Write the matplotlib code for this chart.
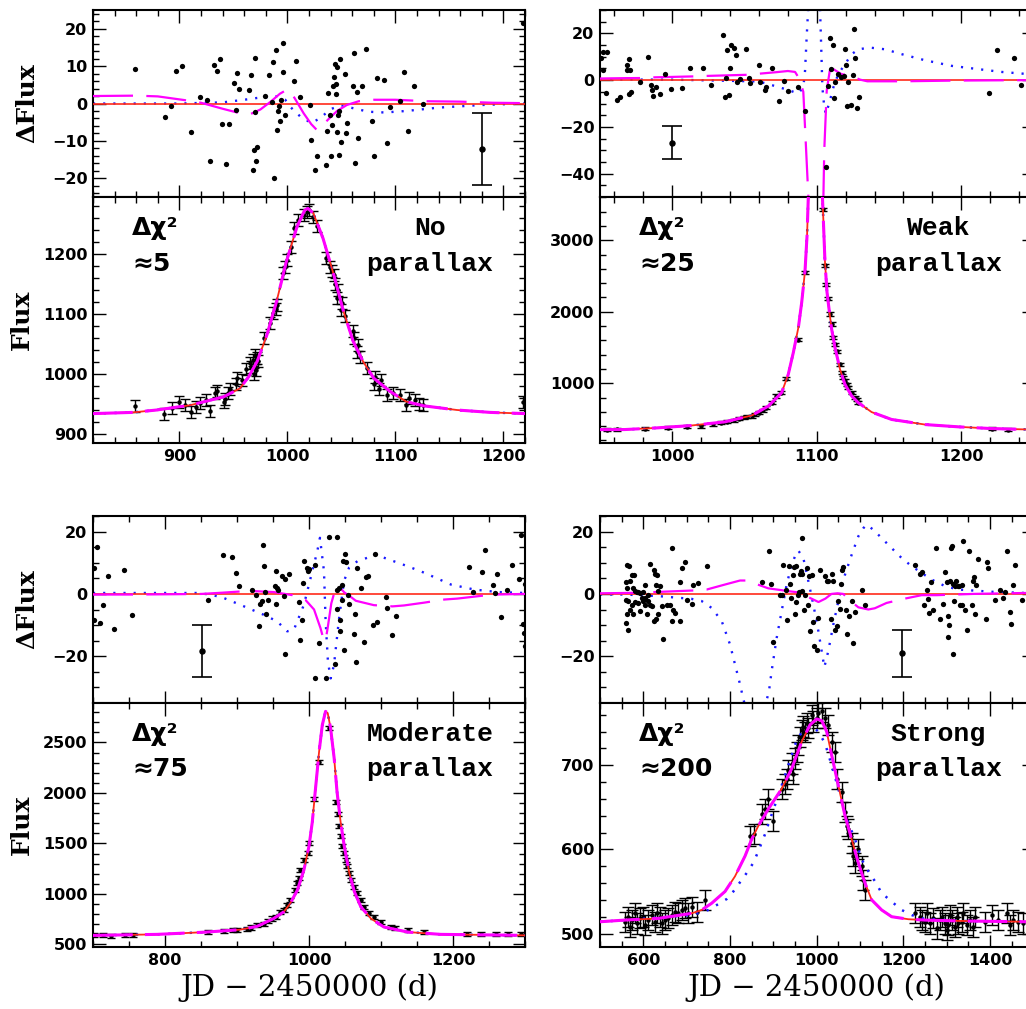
import numpy as np
import matplotlib.pyplot as plt
from matplotlib.ticker import MultipleLocator

# ---------------- panel A : no parallax ----------------
a_res = [(859, 9.3), (887, -3.7), (892, -0.6), (897, 8.6), (902, 9.9), (911, -7.5), (919, 1.7), (926, 0.9),
         (928, -15.4), (932, 10.2), (935, 8.8), (938, 11.8), (939, -5.5), (943, -16.2), (946, -5.5), (951, 5.4),
         (952, -1.8), (953, 8.2), (955, 4.0), (964, 3.7), (966, 7.7), (968, -17.9), (969, -12.5), (970, 12.2),
         (971, -15.3), (972, -11.7), (970, -2.4), (979, 2.0), (983, 7.7), (986, 0.3), (987, 11.0), (988, -20.0),
         (989, 14.4), (990, -7.2), (991, -1.9), (992, -0.7), (993, -4.7), (994, 1.0), (996, 8.4), (996, 16.3),
         (998, -3.1), (1006, 6.0), (1008, 11.3), (1012, 1.7), (1021, -0.3), (1022, -9.8), (1026, -17.9),
         (1027, -14.0), (1036, -16.5), (1037, -7.3), (1038, 2.8), (1039, -3.0), (1040, -14.0), (1041, -5.8),
         (1042, 4.7), (1043, 7.1), (1044, 10.6), (1045, 5.2), (1045, 2.6), (1046, 9.7), (1046, -7.6), (1047, -3.1),
         (1048, -1.9), (1048, -13.8), (1049, 11.8), (1050, -10.3), (1053, 7.9), (1054, -7.8), (1055, -5.3),
         (1061, 4.7), (1062, 13.5), (1063, -15.8), (1064, 3.1), (1065, -9.2), (1069, 4.7), (1073, 14.5),
         (1078, -4.7), (1080, -14.1), (1083, 6.8), (1089, 6.3), (1092, -10.5), (1095, -1.0), (1104, 0.7),
         (1108, 8.3), (1112, -7.4), (1117, 4.8), (1126, 0.0), (1218, 21.6)]
a_bar = (1180, -12.2, 9.6)
a_mag = [(820, 2.0), (860, 2.1), (880, 1.9), (905, 0.9), (920, 0.2), (940, -1.4), (956, -2.6), (966, -2.8),
         (975, -1.6), (985, 0.6), (993, 2.6), (999, 3.6), (1003, 3.2), (1008, 0.8), (1015, -2.6), (1022, -5.5),
         (1027, -7.0), (1032, -6.0), (1038, -4.2), (1046, -2.0), (1055, -0.4), (1066, 0.6), (1080, 1.0),
         (1100, 1.0), (1115, 0.8), (1130, 0.6), (1160, 0.5), (1190, 0.2), (1220, 0.1)]
a_blue = [(820, 0.0), (900, 0.0), (940, 0.3), (960, 1.0), (975, 1.6), (990, 1.9), (998, 1.0), (1003, -1.0),
          (1012, -3.5), (1022, -5.2), (1030, -4.0), (1040, -1.5), (1050, -0.5), (1060, -1.2), (1075, -2.2),
          (1090, -2.4), (1110, -2.0), (1140, -1.1), (1180, -0.4), (1220, 0.0)]
a_flux = [(859, 946), (886, 934), (893, 943), (900, 954), (905, 948), (911, 937), (915, 945), (919, 951),
          (925, 957), (928, 938), (933, 968), (935, 972), (941, 954), (942, 959), (945, 968), (947, 975),
          (952, 984), (953, 993), (958, 990), (962, 1009), (965, 1018), (966, 1012), (968, 1023), (969, 1000),
          (970, 1032), (971, 1007), (972, 1026), (973, 1022), (978, 1060), (984, 1085), (987, 1101), (989, 1109),
          (990, 1115), (996, 1169), (998, 1179), (1000, 1190), (1003, 1212), (1006, 1243), (1010, 1257),
          (1015, 1265), (1018, 1270), (1020, 1273), (1024, 1262), (1027, 1246), (1036, 1193), (1039, 1179),
          (1041, 1172), (1043, 1165), (1044, 1150), (1046, 1126), (1047, 1140), (1050, 1107), (1051, 1118),
          (1053, 1096), (1061, 1071), (1062, 1060), (1064, 1037), (1065, 1048), (1067, 1029), (1074, 1010),
          (1080, 984), (1081, 995), (1085, 975), (1087, 990), (1092, 965), (1098, 968), (1104, 965), (1110, 948),
          (1113, 960), (1118, 957), (1122, 950), (1126, 948), (1218, 954)]
a_err = 10
a_model = [(820, 934), (857, 936), (879, 940), (910, 948), (941, 962), (956, 976), (964, 995), (972, 1021),
           (981, 1065), (990, 1121), (999, 1187), (1009, 1246), (1016, 1273), (1019, 1276), (1024, 1268),
           (1033, 1226), (1043, 1165), (1052, 1104), (1061, 1054), (1070, 1021), (1080, 993), (1095, 971),
           (1110, 954), (1126, 947), (1157, 940), (1188, 936), (1220, 934)]

# ---------------- panel B : weak parallax ----------------
b_res = [(951, 9.4), (952, 12.2), (955, 11.9), (952, 4.4), (954, -5.4), (962, -8.4), (964, -7.1), (968.5, 6.5),
         (970, 8.9), (969, 4.2), (971, 4.2), (970, -6.0), (971.5, -5.2), (978, -1.0), (983, 10.1), (985, -2.1),
         (986, -4.3), (987, -6.7), (989, -2.8), (991.5, -6.0), (995, 2.6), (999, -3.8), (1006.5, -3.4),
         (1012, 5.4), (1021, 5.4), (1027, -2.1), (1035, 19.3), (1036.5, -7.4), (1037, 1.1), (1038, 12.8),
         (1039.5, -6.2), (1040, 5.1), (1041, 15.0), (1043, 13.6), (1044, 10.8), (1045, -0.6), (1047, 0.4),
         (1051, 13.2), (1053, 0.8), (1054, -1.1), (1060, 6.4), (1061, -0.6), (1064, -4.3), (1065, -3.1),
         (1069, 5.4), (1074, -9.0), (1077, -0.3), (1080, -4.8), (1087, -3.1), (1092, -13.0), (1106.6, -37.2),
         (1107.8, -2.7), (1109, 18.2), (1110, 4.7), (1111, 14.9), (1111.7, -7.7), (1112.6, -1.0), (1115, 2.6),
         (1117, 1.4), (1118.6, 1.8), (1119.5, 13.2), (1120, 6.5), (1120.7, -11.2), (1121.6, -1.0),
         (1123.7, -10.6), (1125, 2.3), (1125.5, 22.0), (1126.7, 9.6), (1127.6, -12.1), (1129.5, -7.1),
         (1219, -5.5), (1224.5, 12.9), (1236.5, 9.5), (1241.4, -2.0)]
b_bar = (1000, -26.8, 7.1)
b_mag = [(950, 0.7), (968, 0.85), (978, 0.9), (988, 1.2), (1015, 1.6), (1024, 1.8), (1053, 2.3), (1061, 2.8),
         (1072, 3.4), (1080, 3.9), (1085, 3.5), (1087, 1.5), (1089, -1.5), (1090.7, -5), (1092, -21.6),
         (1094.2, -50), (1099.5, -130), (1104.6, -50), (1105.2, -30), (1106.9, -4.5), (1109, 4.0),
         (1111.5, 4.7), (1117, 2.6), (1124, 1.8), (1130, 0.2), (1135, -0.5), (1160, -0.5), (1195, -0.2),
         (1250, 0.0)]
b_blue = [(950, 0.3), (1000, 0.2), (1040, -0.3), (1060, -0.6), (1066.5, -1.7), (1078, -3.8), (1087.3, -5.7),
          (1090.7, -3.0), (1091.9, 4.0), (1093, 18.2), (1094.2, 32), (1098, 80), (1102.2, 32), (1102.9, 18),
          (1103.9, -3.1), (1105, -10.2), (1106.2, -14.5), (1108.5, -10.2), (1111.5, -3.1), (1114.9, 2.6),
          (1119.5, 6.8), (1124.2, 11.1), (1128.8, 13.2), (1136.8, 13.9), (1147.2, 13.2), (1158.8, 11.1),
          (1174.9, 8.5), (1193.4, 6.1), (1211.8, 4.7), (1228, 3.5), (1250, 2.4)]
b_flux = [(955, 352), (962, 355), (981, 367), (997, 377), (1010, 390), (1020, 400), (1028, 425), (1034, 447),
          (1038, 465), (1043, 484), (1046, 505), (1050, 527), (1052, 535), (1055, 541), (1057, 565), (1060, 587),
          (1063, 625), (1065, 658), (1069, 728), (1072, 822), (1075, 868), (1079, 1065), (1087, 1609),
          (1092, 2555), (1104.5, 3435), (1105.5, 2648), (1106.6, 2377), (1108, 2180), (1109.2, 1969),
          (1110.3, 1829), (1111.5, 1641), (1112.6, 1548), (1113.8, 1445), (1116.1, 1267), (1117.2, 1149),
          (1118.4, 1079), (1119.5, 1032), (1120.7, 986), (1121.9, 939), (1124.2, 868), (1126.5, 798),
          (1127.6, 775), (1128.8, 728), (1221, 363), (1232.6, 353)]
b_err = 22
b_model = [(950, 352), (967, 353), (990, 377), (1013, 409), (1036.5, 461), (1055, 550), (1066.5, 681),
           (1075.7, 868), (1080.3, 1126), (1083.8, 1431), (1087.3, 1782), (1089.6, 2133), (1091.9, 2578),
           (1093.3, 3070), (1094.2, 3632), (1097, 5000), (1099.5, 5800), (1102, 5000), (1103.9, 3632),
           (1104.8, 3164), (1105.7, 2695), (1107.1, 2274), (1108.5, 2039), (1110.3, 1758), (1112.6, 1501),
           (1116.1, 1196), (1119.5, 985), (1124.2, 822), (1128.8, 728), (1138, 597), (1151.8, 494),
           (1174.9, 423), (1198, 391), (1221, 367), (1250, 352)]

# ---------------- panel C : moderate parallax ----------------
c_res = [(701.8, 8.4), (705.1, 15.0), (701.8, -8.3), (709.7, -9.2), (714.4, -3.4), (721.3, 5.7), (729.2, -11.2),
         (743.6, 7.6), (754.8, -6.7), (859.2, -1.9), (880.1, 12.5), (892.6, 11.9), (898.2, 6.8), (902.4, 2.7),
         (920.5, 1.1), (926.1, -0.4), (930.3, -10.2), (932.1, -3.1), (934.4, -2.4), (935.8, 15.7), (938.1, 8.9),
         (939.1, 0.5), (940.9, -6.5), (943.7, -1.8), (952.1, 2.5), (953.9, -3.2), (954.4, 7.3), (955.8, 1.9),
         (957.2, 1.4), (962.7, 5.7), (964.6, -0.8), (966.5, -19.4), (966.5, 4.9), (972.5, 6.5), (986.0, -2.6),
         (987.4, -14.8), (990.1, -8.4), (992.0, 3.5), (993.4, 10.7), (996.6, 8.4), (998.5, 7.3), (1000.3, 8.0),
         (1008.2, 9.4), (1008.2, -27.1), (1013.8, -15.6), (1023.1, -27.1), (1028.2, 18.4), (1036.1, -22.5),
         (1038.4, 18.4), (1038.9, -4.7), (1039.3, 1.1), (1041.7, 1.9), (1042.6, -8.3), (1043.1, -11.8),
         (1045.4, -1.8), (1045.8, 3.0), (1047.7, 10.5), (1048.6, -18.1), (1050.0, 12.7), (1051.4, 10.4),
         (1054.7, -0.2), (1056.1, -3.2), (1062.6, -13.0), (1063.5, -6.4), (1065.8, -21.7), (1066.7, 8.4),
         (1071.8, 1.9), (1076.5, -15.3), (1079.3, 5.4), (1082.1, 5.8), (1089.0, -10.1), (1091.8, 12.7),
         (1094.1, -9.0), (1107.1, -1.0), (1109.0, -4.5), (1115.5, -13.2), (1120.6, -7.2), (1222.7, 8.7),
         (1228.3, 0.6), (1239.9, 6.9), (1245.0, 14.1), (1255.2, 2.8), (1258.5, 0.3), (1261.3, 6.5),
         (1267.3, -7.4), (1274.7, 1.4), (1281.7, 9.2), (1291.9, 4.9), (1294.2, 19.0), (1297.0, -9.6),
         (1298.4, -12.7), (1299.5, -16.6), (1299.6, 3.2)]
c_bar = (851, -18.2, 8.3)
c_mag = [(700, -0.2), (756, -0.2), (812, -0.1), (851, 0.0), (880, 0.4), (906, 0.8), (923, 0.9), (951, 0.6),
         (977, -0.4), (995, -1.9), (1007, -5.0), (1016, -11.0), (1020, -14.4), (1023, -15.0), (1026, -10.8),
         (1031, -3.0), (1037, 1.9), (1045, 1.5), (1049, 0.5), (1060, -1.3), (1065, -2.2), (1090, -3.6),
         (1116, -4.0), (1132, -3.7), (1160, -2.8), (1188, -1.8), (1206, -1.5), (1240, -0.6), (1260, -0.2),
         (1300, 0.0)]
c_blue = [(700, 0.3), (790, 0.3), (844, 0.3), (863, -0.2), (881.5, -1.3), (904.7, -3.5), (937.2, -6.7),
          (955.8, -8.8), (969.7, -12.0), (979, -11.5), (992.9, -3.5), (1002.2, 5.1), (1011.5, 13.7),
          (1015.2, 18.0), (1020.8, 7.3), (1023.1, -8.8), (1026.3, -21.7), (1030.1, -27.1), (1034.7, -22.8),
          (1041.7, -8.0), (1048.6, 4.1), (1055.6, 8.4), (1067.2, 10.5), (1081.1, 11.6), (1090.4, 12.7),
          (1104.3, 11.6), (1136.8, 8.9), (1160, 6.8), (1197.2, 3.0), (1229.7, 1.4), (1262.2, 0.6), (1300, 0.3)]
c_flux = [(702, 592), (714, 590), (725, 588), (744, 592), (756, 590), (860, 622), (882, 630), (895, 640),
          (900, 645), (914, 657), (920, 668), (928, 690), (937, 707), (943, 728), (949, 757), (954, 773),
          (960, 823), (965, 840), (970, 890), (974, 940), (980, 1040), (984, 1107), (986, 1157), (988, 1240),
          (993, 1340), (998, 1407), (1000, 1507), (1007, 1940), (1014, 2307), (1028, 2640), (1038, 1907),
          (1040, 1790), (1042, 1673), (1044, 1573), (1046, 1473), (1049, 1407), (1051, 1340), (1053, 1273),
          (1056, 1207), (1058, 1140), (1063, 1073), (1067, 1007), (1072, 940), (1077, 873), (1083, 807),
          (1090, 773), (1100, 723), (1114, 673), (1120, 662), (1137, 640), (1160, 623), (1220, 607),
          (1239, 607), (1260, 602), (1276, 600), (1295, 600)]
c_err = 20
c_model = [(700, 590), (789, 600), (858, 623), (905, 647), (928, 680), (951, 757), (965, 823), (974, 907),
           (984, 1040), (993, 1240), (1000, 1473), (1004.5, 1707), (1009, 2040), (1014, 2407), (1018.5, 2673),
           (1023, 2807), (1026, 2790), (1030, 2640), (1035, 2340), (1039, 2007), (1044, 1707), (1049, 1473),
           (1056, 1207), (1063, 1023), (1072, 873), (1086, 757), (1104, 673), (1137, 623), (1183, 600),
           (1300, 590)]

# ---------------- panel D : strong parallax ----------------
d_res = [(561.5, 9.4), (566.9, 9.1), (569.2, 4.3), (560, 3.9), (573.1, 6.2), (579.2, 6.2), (561.5, 1.9),
         (576.9, 1.9), (584.6, 0.6), (592.3, 0.3), (600.0, 0.6), (603.8, -1.3), (560, -1.8), (565.4, -2.3),
         (573.1, -3.4), (580.8, -2.6), (588.5, -2.9), (596.1, -1.3), (603.8, -3.4), (611.5, -2.3), (619.2, -3.9),
         (569.2, -5.0), (576.9, -6.6), (561.5, -6.6), (592.3, -5.5), (607.7, -6.6), (615.4, -3.6), (560, -9.3),
         (563.8, -11.7), (628.4, -8.2), (625.4, -8.7), (634.6, -6.6), (642.3, -3.9), (646.1, -14.4),
         (653.8, -3.6), (661.5, -3.4), (669.2, -5.3), (673.0, -6.1), (665.4, -8.7), (684.6, -8.7), (665.4, 14.7),
         (615.4, 9.6), (625.4, 7.8), (626.9, 6.4), (630.7, 6.2), (628.4, 3.0), (634.6, 0.9), (638.4, 2.5),
         (684.6, 3.9), (688.4, 8.3), (696.1, 10.2), (700.0, -1.8), (711.5, -3.2), (715.3, 3.0), (726.9, 3.5),
         (746.1, 9.1), (588.5, 0.6), (600.0, -2.3), (580.8, 0.9), (603.8, 3.0), (611.5, -0.2),
         (873.0, 3.7), (889.9, 13.7), (894.5, 3.3), (898.3, -15.4), (915.3, -0.2), (919.1, -0.4), (923.0, 9.2),
         (929.1, 1.4), (931.4, -8.5), (936.0, 8.9), (937.6, 3.3), (940.6, -1.3), (946.0, 6.2), (948.3, 8.5),
         (949.9, -6.6), (951.4, 8.9), (952.9, -2.5), (956.0, -0.4), (959.1, 0.7), (961.4, 6.5), (963.7, 7.5),
         (965.2, 17.9), (965.2, 0.9), (966.8, 6.5), (969.9, -5.3), (973.0, -0.2), (976.8, 8.3), (980.6, -3.4),
         (982.2, 5.7), (984.5, -11.9), (988.3, 6.0), (992.1, -8.9), (994.4, -16.7), (999.8, -18.1),
         (1003.7, -7.7), (1007.5, 7.8), (1019.1, 5.6), (1022.9, 4.0), (1026.7, 4.3), (1032.9, -7.9),
         (1034.4, 6.4), (1038.3, 4.0), (1042.1, -11.6), (1046.7, -10.3), (1049.8, -2.3), (1053.7, -4.7),
         (1056.0, 3.2), (1059.0, 7.8), (1061.4, 8.5), (1066.7, -5.0), (1069.0, -13.0), (1074.4, -7.1),
         (1080.6, -2.3), (1084.4, -15.7), (1088.3, -5.7), (1105.2, 1.1), (1111.3, -3.7),
         (1226.7, 9.3), (1238.2, 6.3), (1242.1, 7.1), (1248.2, -3.5), (1253.6, 1.1), (1255.9, -1.6),
         (1259.0, -6.1), (1263.6, 3.9), (1269.0, -5.3), (1275.1, 14.7), (1284.3, -8.2), (1292.0, -3.2),
         (1295.9, 7.0), (1299.7, 3.9), (1302.0, -13.9), (1303.6, -7.1), (1305.1, -10.0), (1307.4, 4.3),
         (1309.7, 14.7), (1311.3, 15.3), (1313.6, 3.2), (1315.1, -19.4), (1317.4, -2.3), (1319.0, 2.5),
         (1321.3, 4.3), (1325.1, 2.6), (1328.2, 2.5), (1330.5, -3.4), (1334.3, 3.0), (1335.9, -3.6),
         (1338.2, 16.9), (1342.0, -5.3), (1345.9, -11.7), (1351.2, 13.7), (1357.4, -3.4), (1361.2, 4.3),
         (1363.5, 5.4), (1365.1, -6.6), (1366.6, 2.8), (1371.2, 11.2), (1389.7, -8.2), (1392.0, 10.2),
         (1395.8, 8.3), (1411.2, -1.8), (1422.7, 1.1), (1430.4, -1.3), (1434.2, 0.6), (1439.7, 13.9),
         (1445.8, -5.8), (1448.1, -9.6), (1453.5, 3.0), (1457.3, 9.4), (1472.7, -1.8)]
d_bar = (1196, -19.1, 7.6)
d_mag = [(500, 0.2), (558, 0.3), (592, 0.4), (627, 0.6), (715, 1.1), (746, 1.4), (788, 3.0), (823, 4.3),
         (840, 4.3), (854, 3.5), (888, 1.8), (934, 0.9), (957, 0.5), (980, -1.0), (1004, -2.6), (1020, -1.5),
         (1034, 0.0), (1048, 0.2), (1061, 0.0), (1080, -2.5), (1096, -4.3), (1119, -5.0), (1134, -4.6),
         (1161, -2.9), (1200, -1.6), (1242, -0.4), (1277, -0.4), (1361, 0.0), (1480, 0.3), (1500, 0.3)]
d_blue = [(500, -0.2), (557.7, -0.2), (634.6, -0.7), (711.5, -1.6), (734.6, -2.3), (757.6, -4.5), (780.7, -8.7),
          (799.9, -16.2), (811.4, -22.6), (823.0, -29.0), (830.7, -33.8), (859.1, -48), (889.9, -31.1),
          (896.0, -24.7), (907.6, -14.1), (919.1, -5.5), (930.6, 3.0), (942.2, 9.4), (951.4, 12.6),
          (957.5, 13.9), (969.1, 11.5), (980.6, 4.1), (992.1, -3.4), (1003.7, -11.9), (1017.5, -23.5),
          (1026.7, -18.3), (1038.3, -9.8), (1049.8, -2.3), (1065.2, 6.2), (1080.6, 12.6), (1096.0, 18.5),
          (1107.5, 21.1), (1115.2, 22.2), (1130.5, 20.6), (1149.8, 17.9), (1172.8, 14.7), (1195.9, 11.5),
          (1219.0, 8.9), (1242.1, 6.7), (1265.1, 4.6), (1295.9, 2.5), (1326.6, 1.4), (1403.5, 0.7),
          (1480.4, 0.3), (1500, 0.3)]
d_flux = [(557.7, 514), (565.4, 520), (569.2, 508), (573.1, 516), (580.8, 524), (584.6, 512), (592.3, 518),
          (600.0, 520), (603.8, 510), (611.5, 516), (619.2, 522), (626.9, 514), (630.7, 524), (638.4, 520),
          (642.3, 512), (650.0, 516), (657.7, 518), (665.4, 522), (673.0, 526), (680.7, 524), (688.4, 528),
          (696.1, 530), (703.8, 524), (711.5, 532), (723.0, 526), (742.2, 540), (846, 616), (855, 618),
          (873.0, 642), (880.6, 648), (888.3, 660), (899.9, 634), (919.1, 672), (926.8, 678), (930.6, 684),
          (934.5, 694), (942.2, 702), (946.0, 690), (949.9, 708), (953.7, 716), (957.5, 724), (961.4, 734),
          (965.2, 742), (969.1, 746), (972.9, 740), (976.8, 750), (980.6, 744), (988.3, 760), (992.1, 752),
          (999.8, 756), (1003.7, 762), (1011.4, 764), (1019.1, 756), (1026.7, 748), (1034.4, 728),
          (1042.1, 716), (1046.0, 684), (1057.5, 668), (1065.2, 644), (1069.0, 628), (1072.9, 624),
          (1080.6, 608), (1084.4, 592), (1088.3, 584), (1096.0, 600), (1103.7, 580), (1107.5, 564),
          (1111.3, 552), (1226.7, 524), (1238.2, 520), (1242.1, 516), (1249.7, 514), (1253.6, 524),
          (1261.3, 512), (1269.0, 518), (1276.7, 506), (1284.3, 516), (1288.2, 520), (1295.9, 512),
          (1299.7, 504), (1303.6, 510), (1307.4, 522), (1311.3, 516), (1319.0, 508), (1322.8, 520),
          (1326.6, 512), (1334.3, 514), (1338.2, 524), (1345.9, 510), (1353.6, 516), (1361.2, 508),
          (1365.1, 520), (1388.2, 514), (1403.5, 522), (1418.9, 516), (1438.1, 524), (1445.8, 510),
          (1453.5, 516), (1465.0, 514), (1476.6, 512)]
d_err = 12
d_model = [(500, 514), (557.7, 516), (634.6, 518), (711.5, 524), (734.6, 528), (757.6, 536), (788.4, 550),
           (811.4, 568), (834.5, 592), (849.9, 612), (865.3, 628), (888.3, 648), (919.1, 672), (942.2, 696),
           (965.2, 728), (984.5, 748), (999.8, 755), (1011.4, 753), (1022.9, 740), (1034.4, 712), (1049.8, 676),
           (1065.2, 640), (1080.6, 612), (1096.0, 584), (1111.3, 560), (1126.7, 540), (1149.8, 528),
           (1172.8, 520), (1211.3, 517), (1249.7, 516), (1326.6, 515), (1480.4, 514), (1500, 514)]
d_bmodel = [(500, 514), (557.7, 516), (711.5, 522), (749.9, 528), (773.0, 535), (792.2, 541), (807.6, 550),
            (823.0, 561), (838.4, 572), (853.7, 584), (865.3, 598), (880.6, 618), (892.2, 636), (911.4, 664),
            (942.2, 712), (953.7, 730), (969.1, 742), (988.3, 747), (1003.7, 740), (1019.1, 726), (1034.4, 700),
            (1049.8, 672), (1069.0, 636), (1088.3, 612), (1103.7, 588), (1119.0, 574), (1134.4, 562),
            (1149.8, 548), (1172.8, 538), (1195.9, 528), (1219.0, 522), (1242.1, 518), (1326.6, 515),
            (1480.4, 514), (1500, 514)]

RED = '#ff2a1a'
MAG = '#ff00ff'
BLUE = '#1a1aff'
W, H = 1026, 1009

fig = plt.figure(figsize=(W / 100, H / 100), dpi=100)


def xy(pairs):
    a = np.array(pairs, dtype=float)
    return a[:, 0], a[:, 1]


def box(left, top, width, height):
    return fig.add_axes([left / W, 1 - (top + height) / H, width / W, height / H])


def style(ax, xloc, yloc):
    ax.xaxis.set_major_locator(MultipleLocator(xloc[0]))
    ax.xaxis.set_minor_locator(MultipleLocator(xloc[1]))
    ax.yaxis.set_major_locator(MultipleLocator(yloc[0]))
    ax.yaxis.set_minor_locator(MultipleLocator(yloc[1]))
    ax.tick_params(which='both', direction='in', top=True, right=True, width=1, labelsize=11.5, pad=4)
    ax.tick_params(which='major', length=9)
    ax.tick_params(which='minor', length=4.5)
    for lab in ax.get_xticklabels() + ax.get_yticklabels():
        lab.set_fontweight('bold')
    for s in ax.spines.values():
        s.set_linewidth(1.5)


def panel(left, top, width, fh, res, bar, mag, blue, flux, err, model, bmodel,
          xlim, rlim, flim, xloc, rloc, floc, dchi, name, cap, ylab, xlab):
    r = box(left, top, width, 187)
    f = box(left, top + 187, width, fh)

    # residuals
    r.plot(*xy(blue), color=BLUE, lw=1.7, dashes=(0.9, 3.4), zorder=2)
    r.axhline(0, color=RED, lw=1.2, zorder=3)
    r.plot(*xy(mag), color=MAG, lw=1.6, dashes=(18, 6), zorder=4)
    rt, rv = xy(res)
    r.plot(rt, rv, 'o', color='k', ms=3.8, mec='none', zorder=5)
    r.errorbar([bar[0]], [bar[1]], yerr=[bar[2]], fmt='o', color='k', ms=3.6, capsize=7,
               elinewidth=1.2, capthick=1.2, zorder=5)
    r.set_xlim(*xlim)
    r.set_ylim(*rlim)
    style(r, xloc, rloc)
    r.tick_params(labelbottom=False)

    # light curve
    ft, fv = xy(flux)
    f.errorbar(ft, fv, yerr=err, fmt='o', color='k', ms=2.2, capsize=cap, elinewidth=1,
               capthick=1, zorder=2)
    f.plot(*xy(bmodel if bmodel is not None else model), color=BLUE, lw=1.8, dashes=(0.9, 3.4), zorder=3)
    f.plot(*xy(model), color=RED, lw=1.3, zorder=4)
    f.plot(*xy(model), color=MAG, lw=2.2, dashes=(13, 4), zorder=5)
    f.set_xlim(*xlim)
    f.set_ylim(*flim)
    style(f, xloc, floc)

    f.text(0.09, 0.872, 'Δχ²', transform=f.transAxes, fontsize=18, fontweight='bold', va='center')
    f.text(0.09, 0.728, dchi, transform=f.transAxes, fontsize=18, fontweight='bold', va='center')
    f.text(0.78, 0.872, name, transform=f.transAxes, fontsize=19, fontweight='bold',
           family='Liberation Mono', ha='center', va='center')
    f.text(0.78, 0.728, 'parallax', transform=f.transAxes, fontsize=19, fontweight='bold',
           family='Liberation Mono', ha='center', va='center')

    if ylab:
        r.set_ylabel('ΔFlux', family='DejaVu Serif', fontweight='bold', fontsize=18)
        r.yaxis.label.set_va('center')
        r.yaxis.set_label_coords(-0.152, 0.5)
        f.set_ylabel('Flux', family='DejaVu Serif', fontweight='bold', fontsize=18)
        f.yaxis.label.set_va('center')
        f.yaxis.set_label_coords(-0.164, 0.5)
    if xlab:
        f.set_xlabel('JD − 2450000 (d)', family='DejaVu Serif', fontsize=21)
        f.xaxis.set_label_coords(0.5, -0.165)
        f.xaxis.label.set_va('center')


panel(93, 10, 432, 246, a_res, a_bar, a_mag, a_blue, a_flux, a_err, a_model, None,
      (820, 1220), (-25, 25), (885, 1295), (100, 20), (10, 2), (100, 20), '≈5', 'No', 3.6, True, False)
panel(600, 10, 433.5, 246, b_res, b_bar, b_mag, b_blue, b_flux, b_err, b_model, None,
      (950, 1250), (-50, 30), (165, 3605), (100, 20), (20, 5), (1000, 200), '≈25', 'Weak', 2.8, False, False)
panel(93, 516, 432, 244, c_res, c_bar, c_mag, c_blue, c_flux, c_err, c_model, None,
      (700, 1300), (-35, 25), (475, 2890), (200, 50), (20, 5), (500, 100), '≈75', 'Moderate', 2.8, True, True)
panel(600, 516, 433.5, 244, d_res, d_bar, d_mag, d_blue, d_flux, d_err, d_model, d_bmodel,
      (500, 1500), (-35, 25), (484, 774), (200, 50), (20, 5), (100, 20), '≈200', 'Strong', 4.2, False, True)

fig.savefig('out.png', dpi=100)
